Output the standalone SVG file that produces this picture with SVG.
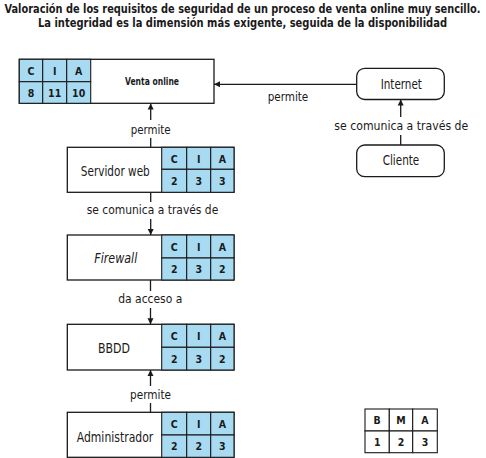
<svg xmlns="http://www.w3.org/2000/svg" width="486" height="458" viewBox="0 0 486 458">
<defs>
<style>
text{font-family:"Liberation Sans Narrow","DejaVu Sans Condensed","Liberation Sans",sans-serif;fill:#1a1a1a}
.title{font-size:11.5px;font-weight:bold}
.lbl{font-size:13px}
.node{font-size:13.5px}
.hd{font-size:10.5px;font-weight:bold}
.box{fill:#fff;stroke:#1a1a1a;stroke-width:1.3}
.cell{fill:#a8daf2;stroke:#1a1a1a;stroke-width:1.1}
.wcell{fill:#fff;stroke:#1a1a1a;stroke-width:1.1}
.ln{stroke:#1a1a1a;stroke-width:1.3;fill:none}
</style>
<marker id="ah" viewBox="0 0 10 10" refX="10" refY="5" markerWidth="6" markerHeight="9" markerUnits="userSpaceOnUse" orient="auto">
<path d="M0,0 L10,5 L0,10 z" fill="#1a1a1a"/>
</marker>
</defs>
<rect width="486" height="458" fill="#fff"/>
<g id="title">
<text class="title" x="242.5" y="13" text-anchor="middle" textLength="476" lengthAdjust="spacingAndGlyphs">Valoración de los requisitos de seguridad de un proceso de venta online muy sencillo.</text>
<text class="title" x="242.5" y="26.5" text-anchor="middle" textLength="409" lengthAdjust="spacingAndGlyphs">La integridad es la dimensión más exigente, seguida de la disponibilidad</text>
</g>
<g id="connectors">
<line class="ln" x1="150.7" y1="147.3" x2="150.7" y2="138"/>
<line class="ln" x1="150.7" y1="120" x2="150.7" y2="103.5" marker-end="url(#ah)"/>
<text class="lbl" x="150.7" y="133.5" text-anchor="middle" textLength="40" lengthAdjust="spacingAndGlyphs">permite</text>
<line class="ln" x1="150.7" y1="192.3" x2="150.7" y2="202"/>
<line class="ln" x1="150.7" y1="219" x2="150.7" y2="235" marker-end="url(#ah)"/>
<text class="lbl" x="152.5" y="213.5" text-anchor="middle" textLength="131.5" lengthAdjust="spacingAndGlyphs">se comunica a través de</text>
<line class="ln" x1="150.5" y1="280" x2="150.5" y2="291"/>
<line class="ln" x1="150.5" y1="308" x2="150.5" y2="324.3" marker-end="url(#ah)"/>
<text class="lbl" x="150.3" y="303" text-anchor="middle" textLength="64" lengthAdjust="spacingAndGlyphs">da acceso a</text>
<line class="ln" x1="150.5" y1="412.3" x2="150.5" y2="403"/>
<line class="ln" x1="150.5" y1="386" x2="150.5" y2="370" marker-end="url(#ah)"/>
<text class="lbl" x="150.5" y="399" text-anchor="middle" textLength="41" lengthAdjust="spacingAndGlyphs">permite</text>
<line class="ln" x1="357" y1="84.3" x2="214" y2="84.3" marker-end="url(#ah)"/>
<text class="lbl" x="288" y="101" text-anchor="middle" textLength="40.6" lengthAdjust="spacingAndGlyphs">permite</text>
<line class="ln" x1="400.7" y1="145" x2="400.7" y2="135"/>
<line class="ln" x1="400.7" y1="117" x2="400.7" y2="99.5" marker-end="url(#ah)"/>
<text class="lbl" x="401.3" y="130" text-anchor="middle" textLength="134" lengthAdjust="spacingAndGlyphs">se comunica a través de</text>
</g>
<g id="venta-online">
<rect class="box" x="19.3" y="59.3" width="194.7" height="44"/>
<rect class="cell" x="19.3" y="59.3" width="23.4" height="22.4"/>
<rect class="cell" x="42.7" y="59.3" width="24" height="22.4"/>
<rect class="cell" x="66.7" y="59.3" width="24" height="22.4"/>
<rect class="cell" x="19.3" y="81.7" width="23.4" height="21.6"/>
<rect class="cell" x="42.7" y="81.7" width="24" height="21.6"/>
<rect class="cell" x="66.7" y="81.7" width="24" height="21.6"/>
<text class="hd" x="31" y="74.5" text-anchor="middle">C</text>
<text class="hd" x="54.7" y="74.5" text-anchor="middle">I</text>
<text class="hd" x="78.7" y="74.5" text-anchor="middle">A</text>
<text class="hd" x="31" y="96.5" text-anchor="middle">8</text>
<text class="hd" x="54.7" y="96.5" text-anchor="middle">11</text>
<text class="hd" x="78.7" y="96.5" text-anchor="middle">10</text>
<text x="152" y="84.5" text-anchor="middle" font-size="11" font-weight="bold" textLength="54" lengthAdjust="spacingAndGlyphs">Venta online</text>
</g>
<g id="servidor-web">
<rect class="box" x="67.3" y="147.3" width="166.7" height="45"/>
<rect class="cell" x="161.7" y="147.3" width="25" height="22"/>
<rect class="cell" x="186.7" y="147.3" width="24" height="22"/>
<rect class="cell" x="210.7" y="147.3" width="23.3" height="22"/>
<rect class="cell" x="161.7" y="169.3" width="25" height="23"/>
<rect class="cell" x="186.7" y="169.3" width="24" height="23"/>
<rect class="cell" x="210.7" y="169.3" width="23.3" height="23"/>
<text class="hd" x="174.2" y="162.5" text-anchor="middle">C</text>
<text class="hd" x="198.7" y="162.5" text-anchor="middle">I</text>
<text class="hd" x="222.3" y="162.5" text-anchor="middle">A</text>
<text class="hd" x="174.2" y="185" text-anchor="middle">2</text>
<text class="hd" x="198.7" y="185" text-anchor="middle">3</text>
<text class="hd" x="222.3" y="185" text-anchor="middle">3</text>
<text class="node" x="115.3" y="175.7" text-anchor="middle" textLength="69" lengthAdjust="spacingAndGlyphs">Servidor web</text>
</g>
<g id="firewall">
<rect class="box" x="67.3" y="235" width="166.7" height="45"/>
<rect class="cell" x="161.7" y="235" width="25" height="23"/>
<rect class="cell" x="186.7" y="235" width="24" height="23"/>
<rect class="cell" x="210.7" y="235" width="23.3" height="23"/>
<rect class="cell" x="161.7" y="258" width="25" height="22"/>
<rect class="cell" x="186.7" y="258" width="24" height="22"/>
<rect class="cell" x="210.7" y="258" width="23.3" height="22"/>
<text class="hd" x="174.2" y="250.5" text-anchor="middle">C</text>
<text class="hd" x="198.7" y="250.5" text-anchor="middle">I</text>
<text class="hd" x="222.3" y="250.5" text-anchor="middle">A</text>
<text class="hd" x="174.2" y="273" text-anchor="middle">2</text>
<text class="hd" x="198.7" y="273" text-anchor="middle">3</text>
<text class="hd" x="222.3" y="273" text-anchor="middle">2</text>
<text class="node" x="115.8" y="263" text-anchor="middle" font-style="italic" textLength="43" lengthAdjust="spacingAndGlyphs">Firewall</text>
</g>
<g id="bbdd">
<rect class="box" x="67.3" y="324.3" width="166.7" height="45.7"/>
<rect class="cell" x="161.7" y="324.3" width="25" height="23"/>
<rect class="cell" x="186.7" y="324.3" width="24" height="23"/>
<rect class="cell" x="210.7" y="324.3" width="23.3" height="23"/>
<rect class="cell" x="161.7" y="347.3" width="25" height="22.7"/>
<rect class="cell" x="186.7" y="347.3" width="24" height="22.7"/>
<rect class="cell" x="210.7" y="347.3" width="23.3" height="22.7"/>
<text class="hd" x="174.2" y="340" text-anchor="middle">C</text>
<text class="hd" x="198.7" y="340" text-anchor="middle">I</text>
<text class="hd" x="222.3" y="340" text-anchor="middle">A</text>
<text class="hd" x="174.2" y="362.5" text-anchor="middle">2</text>
<text class="hd" x="198.7" y="362.5" text-anchor="middle">3</text>
<text class="hd" x="222.3" y="362.5" text-anchor="middle">2</text>
<text class="node" x="114" y="352.5" text-anchor="middle" textLength="32" lengthAdjust="spacingAndGlyphs">BBDD</text>
</g>
<g id="administrador">
<rect class="box" x="67.3" y="412.3" width="166.7" height="45"/>
<rect class="cell" x="161.7" y="412.3" width="25" height="22.7"/>
<rect class="cell" x="186.7" y="412.3" width="24" height="22.7"/>
<rect class="cell" x="210.7" y="412.3" width="23.3" height="22.7"/>
<rect class="cell" x="161.7" y="435" width="25" height="22.3"/>
<rect class="cell" x="186.7" y="435" width="24" height="22.3"/>
<rect class="cell" x="210.7" y="435" width="23.3" height="22.3"/>
<text class="hd" x="174.2" y="428" text-anchor="middle">C</text>
<text class="hd" x="198.7" y="428" text-anchor="middle">I</text>
<text class="hd" x="222.3" y="428" text-anchor="middle">A</text>
<text class="hd" x="174.2" y="450" text-anchor="middle">2</text>
<text class="hd" x="198.7" y="450" text-anchor="middle">2</text>
<text class="hd" x="222.3" y="450" text-anchor="middle">3</text>
<text class="node" x="115" y="441.7" text-anchor="middle" textLength="76.6" lengthAdjust="spacingAndGlyphs">Administrador</text>
</g>
<g id="internet">
<rect class="box" x="356.7" y="68.3" width="87.6" height="31.2" rx="8"/>
<text class="node" x="401.3" y="88.5" text-anchor="middle" textLength="41.3" lengthAdjust="spacingAndGlyphs">Internet</text>
</g>
<g id="cliente">
<rect class="box" x="356.7" y="145" width="87.6" height="31.7" rx="8"/>
<text class="node" x="401" y="164.5" text-anchor="middle" textLength="36.6" lengthAdjust="spacingAndGlyphs">Cliente</text>
</g>
<g id="leyenda">
<rect class="wcell" x="365" y="409" width="24.3" height="22"/>
<rect class="wcell" x="389.3" y="409" width="23.4" height="22"/>
<rect class="wcell" x="412.7" y="409" width="24.6" height="22"/>
<rect class="wcell" x="365" y="431" width="24.3" height="21.7"/>
<rect class="wcell" x="389.3" y="431" width="23.4" height="21.7"/>
<rect class="wcell" x="412.7" y="431" width="24.6" height="21.7"/>
<text class="hd" x="377.2" y="424" text-anchor="middle">B</text>
<text class="hd" x="401" y="424" text-anchor="middle">M</text>
<text class="hd" x="425" y="424" text-anchor="middle">A</text>
<text class="hd" x="377.2" y="446" text-anchor="middle">1</text>
<text class="hd" x="401" y="446" text-anchor="middle">2</text>
<text class="hd" x="425" y="446" text-anchor="middle">3</text>
</g>
</svg>
